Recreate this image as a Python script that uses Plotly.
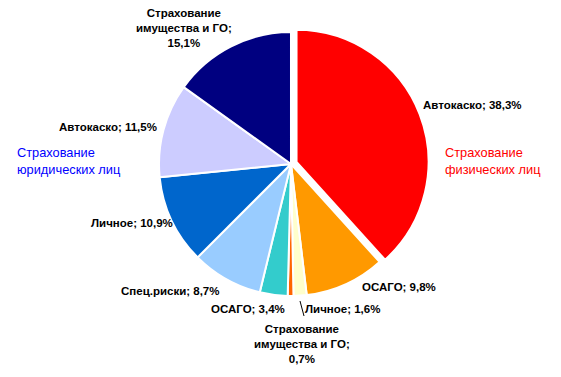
import plotly.graph_objects as go

# ---- data ----
groups = ["Страхование физических лиц"] * 4 + ["Страхование юридических лиц"] * 5
categories = ["Автокаско", "ОСАГО", "Личное", "Страхование имущества и ГО",
              "ОСАГО", "Спец.риски", "Личное", "Автокаско", "Страхование имущества и ГО"]
values = [38.3, 9.8, 1.6, 0.7, 3.4, 8.7, 10.9, 11.5, 15.1]

# ---- style ----
colors = ["#FF0000", "#FF9900", "#FFFFCC", "#FF6600",
          "#33CCCC", "#99CCFF", "#0066CC", "#CCCCFF", "#000080"]
pulls = [0.045, 0, 0, 0, 0, 0, 0, 0, 0]
# label centre positions in pixels (x, y from top)
label_pos = [(472, 105), (399, 287), (342, 309), (301.5, 344),
             (247.5, 309), (170, 291), (132, 223), (108, 127), (184, 28)]
group_pos = {"Страхование физических лиц": (443, 161, "#FF0000"),
             "Страхование юридических лиц": (15, 161, "#0000FF")}

W, H = 561, 377
FONT = "Liberation Sans, Arial, sans-serif"


def fmt(v):
    return f"{v:.1f}".replace(".", ",")


def label_text(cat, v):
    if cat == "Страхование имущества и ГО":
        return f"Страхование<br>имущества и ГО;<br>{fmt(v)}%"
    return f"{cat}; {fmt(v)}%"


fig = go.Figure(go.Pie(
    labels=[f"{g}: {c}" for g, c in zip(groups, categories)],
    values=values,
    sort=False,
    direction="clockwise",
    rotation=0,
    pull=pulls,
    marker=dict(colors=colors, line=dict(color="white", width=2)),
    textinfo="none",
    hoverinfo="label+value",
    domain=dict(x=[0.2728, 0.7646], y=[0.1991, 0.9309]),
    showlegend=False,
))

annotations = []
for cat, v, (px, py) in zip(categories, values, label_pos):
    annotations.append(dict(
        text=f"<b>{label_text(cat, v)}</b>",
        x=px / W, y=1 - py / H, xref="paper", yref="paper",
        xanchor="center", yanchor="middle", showarrow=False,
        align="center",
        font=dict(family=FONT, size=11.5, color="black"),
    ))
for g, (px, py, col) in group_pos.items():
    annotations.append(dict(
        text=g.replace(" ", "<br>", 1),
        x=px / W, y=1 - py / H, xref="paper", yref="paper",
        xanchor="left", yanchor="middle", showarrow=False,
        align="left",
        font=dict(family=FONT, size=12.8, color=col),
    ))

fig.update_layout(
    width=W, height=H,
    margin=dict(l=0, r=0, t=0, b=0),
    paper_bgcolor="white",
    plot_bgcolor="white",
    annotations=annotations,
    shapes=[dict(type="line", xref="paper", yref="paper",
                 x0=300 / W, y0=1 - 301 / H, x1=304 / W, y1=1 - 316 / H,
                 line=dict(color="black", width=1))],
)

fig.write_html("out.html")
